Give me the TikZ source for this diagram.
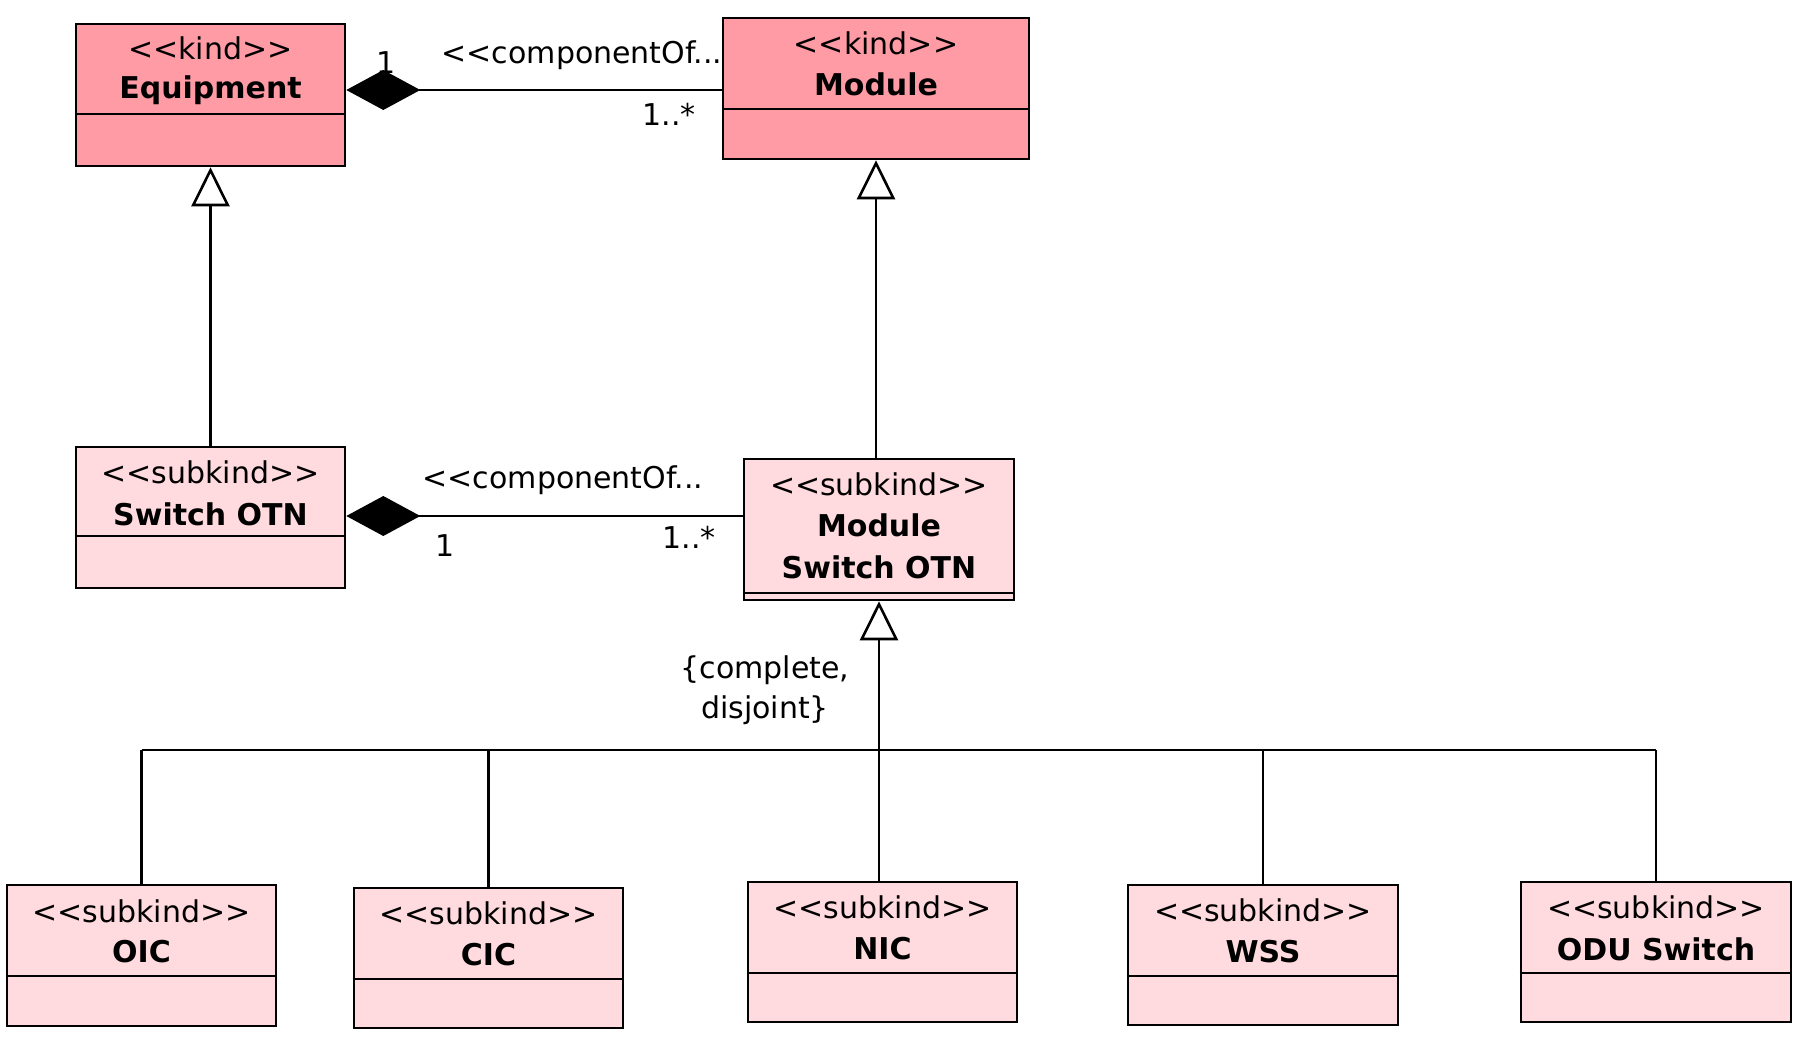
\documentclass[tikz,border=0pt]{standalone}
\usepackage{fontspec}
\newfontfamily\umlfont{DejaVu Sans}
\usetikzlibrary{arrows.meta}
\definecolor{kindfill}{RGB}{255,155,165}
\definecolor{subfill}{RGB}{255,218,222}
\tikzset{
  umlbox/.style={draw=black, line width=2.6pt, rectangle, inner sep=0pt},
  kindbox/.style={umlbox, fill=kindfill},
  subbox/.style={umlbox, fill=subfill},
  txt/.style={font=\umlfont\fontsize{30}{40}\selectfont, inner sep=0pt, align=center},
  btxt/.style={font=\umlfont\bfseries\fontsize{30}{42}\selectfont, inner sep=0pt, align=center},
  conn/.style={line width=2.6pt},
  comp/.style={conn, -{Diamond[length=74pt,width=40pt]}},
  gen/.style={conn, -{Triangle[open,length=39pt,width=38pt,fill=white,line width=2.6pt]}},
  divl/.style={line width=2.6pt}
}
\begin{document}
\begin{tikzpicture}[x=1pt,y=-1pt]
\useasboundingbox (0,0) rectangle (1803,1041);
% boxes
\node[kindbox, minimum width=269pt, minimum height=142pt] (equip) at (210.5,95) {};
\node[kindbox, minimum width=306pt, minimum height=141pt] (module) at (876,88.5) {};
\node[subbox, minimum width=269pt, minimum height=141pt] (sotn) at (210.5,517.5) {};
\node[subbox, minimum width=270pt, minimum height=141pt] (mso) at (879,529.5) {};
\node[subbox, minimum width=269pt, minimum height=141pt] (oic) at (141.5,955.5) {};
\node[subbox, minimum width=269pt, minimum height=140pt] (cic) at (488.5,958) {};
\node[subbox, minimum width=269pt, minimum height=140pt] (nic) at (882.5,952) {};
\node[subbox, minimum width=270pt, minimum height=140pt] (wss) at (1263,955) {};
\node[subbox, minimum width=270pt, minimum height=140pt] (odu) at (1656,952) {};
% dividers
\draw[divl] (equip.west |- 0,114) -- (equip.east |- 0,114);
\draw[divl] (module.west |- 0,109) -- (module.east |- 0,109);
\draw[divl] (sotn.west |- 0,536) -- (sotn.east |- 0,536);
\draw[divl] (mso.west |- 0,593) -- (mso.east |- 0,593);
\draw[divl] (oic.west |- 0,976) -- (oic.east |- 0,976);
\draw[divl] (cic.west |- 0,979) -- (cic.east |- 0,979);
\draw[divl] (nic.west |- 0,973) -- (nic.east |- 0,973);
\draw[divl] (wss.west |- 0,976) -- (wss.east |- 0,976);
\draw[divl] (odu.west |- 0,973) -- (odu.east |- 0,973);
% texts
\node[txt] (t1) at (210.5,48) {<<kind>>};
\node[btxt] (t2) at (210.5,90) {Equipment};
\node[txt] (t3) at (876,43) {<<kind>>};
\node[btxt] (t4) at (876,84) {Module};
\node[txt] (t5) at (210.5,472) {<<subkind>>};
\node[btxt] (t6) at (210.5,514) {Switch OTN};
\node[txt] (t7) at (879,484) {<<subkind>>};
\node[btxt] (t8) at (879,525) {Module};
\node[btxt] (t9) at (879,567) {Switch OTN};
\node[txt] (s1) at (141.5,911) {<<subkind>>};
\node[btxt] (n1) at (141.5,952) {OIC};
\node[txt] (s2) at (488.5,913) {<<subkind>>};
\node[btxt] (n2) at (488.5,955) {CIC};
\node[txt] (s3) at (882.5,907) {<<subkind>>};
\node[btxt] (n3) at (882.5,949) {NIC};
\node[txt] (s4) at (1263,910) {<<subkind>>};
\node[btxt] (n4) at (1263,952) {WSS};
\node[txt] (s5) at (1656,907) {<<subkind>>};
\node[btxt] (n5) at (1656,949) {ODU Switch};
% compositions
\draw[comp] (module.west |- 0,90) -- (equip.east |- 0,90);
\node[txt] (c1) at (582,55) {<<componentOf...};
\node[txt] (m1) at (386,63) {1};
\node[txt] (m2) at (669,114) {1..*};
\draw[comp] (mso.west |- 0,516) -- (sotn.east |- 0,516);
\node[txt] (c2) at (563,480) {<<componentOf...};
\node[txt] (m3) at (445,546) {1};
\node[txt] (m4) at (689,537) {1..*};
% generalizations
\draw[gen] (sotn.north) -- (equip.south);
\draw[gen] (mso.north -| module.south) -- (module.south);
\coordinate (hb) at (0,750);
\draw[gen] (nic.north -| mso.south) -- (mso.south);
\draw[conn] (oic.north |- hb) -- (odu.north |- hb);
\draw[conn] (oic.north) -- (oic.north |- hb);
\draw[conn] (cic.north) -- (cic.north |- hb);
\draw[conn] (wss.north) -- (wss.north |- hb);
\draw[conn] (odu.north) -- (odu.north |- hb);
\node[txt] (gs) at (765,690) {\{complete,\\disjoint\}};
\end{tikzpicture}
\end{document}
